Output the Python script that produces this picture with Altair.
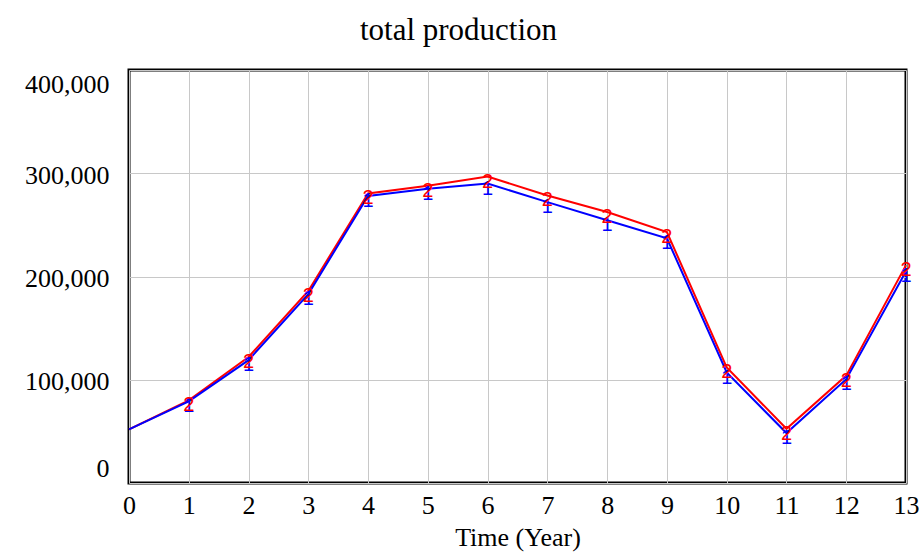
import altair as alt
import pandas as pd

# Simulation output, one value per year
years = list(range(0, 14))
run1 = [52000, 79000, 119000, 183000, 278000, 285000, 290000, 272000,
        254500, 237000, 107000, 48400, 100600, 205000]
run2 = [52000, 80000, 122000, 186000, 280500, 288000, 296800, 278500,
        262500, 243000, 112000, 52500, 104000, 211000]
run_names = ["1", "2"]
run_colors = ["#0000ff", "#ff0000"]
y_ticks = [0, 100000, 200000, 300000, 400000]

rows = []
for name, vals in zip(run_names, [run1, run2]):
    for t, v in zip(years, vals):
        rows.append({"Time": t, "value": v, "run": name})
df = pd.DataFrame(rows)
markers = df[df["Time"] > 0]

x = alt.X("Time:Q", title="Time (Year)",
          scale=alt.Scale(domain=[0, 13], nice=False, zero=False),
          axis=alt.Axis(values=years, format="d", labelFlush=False, ticks=False,
                        domain=False, labelPadding=9, titlePadding=6,
                        gridColor="#c8c8c8", gridWidth=1))
y = alt.Y("value:Q", title=None,
          scale=alt.Scale(domain=[0, 400000], nice=False),
          axis=alt.Axis(values=y_ticks, format=",d", ticks=False, domain=False,
                        labelPadding=20, labelFlush=False,
                        labelOffset=alt.expr("datum.value == 0 ? -15 : datum.value == 400000 ? 14 : 2"),
                        gridColor="#c8c8c8", gridWidth=1))
color = alt.Color("run:N", scale=alt.Scale(domain=run_names, range=run_colors),
                  legend=None)

lines = alt.Chart(df).mark_line(strokeWidth=2).encode(
    x=x, y=y, color=color,
    order=alt.Order("Time:Q"),
    detail="run:N",
)
red_line = lines.transform_filter(alt.datum.run == "2")
blue_line = lines.transform_filter(alt.datum.run == "1")

digits = alt.Chart(markers).mark_text(
    font="Liberation Sans", fontSize=20, baseline="middle", dy=5
).encode(x=x, y=y, text="run:N", color=color)

chart = alt.layer(red_line, blue_line, digits).properties(
    width=777, height=413,
    title=alt.TitleParams("total production", font="Liberation Serif",
                          fontSize=31, fontWeight="normal", color="black",
                          anchor="middle", offset=23, dx=-59),
    autosize=alt.AutoSizeParams(type="none"),
    padding={"left": 129, "top": 70, "right": 14, "bottom": 69},
    background="white",
).configure_view(
    stroke="black", strokeWidth=3
).configure_axis(
    labelFont="Liberation Serif", labelFontSize=26, labelColor="black",
    titleFont="Liberation Serif", titleFontSize=26, titleColor="black",
    titleFontWeight="normal",
)

chart.save("out.html", embed_options={"renderer": "svg", "actions": False})
